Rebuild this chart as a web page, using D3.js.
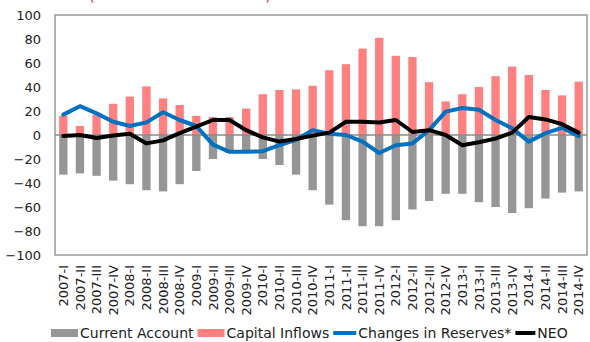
<!DOCTYPE html>
<html>
<head>
<meta charset="utf-8">
<script src="https://cdn.jsdelivr.net/npm/d3@7"></script>
<style>
  html, body { margin: 0; padding: 0; background: #fff; }
  svg { display: block; font-family: "DejaVu Sans", sans-serif; }
</style>
</head>
<body>
<svg id="chart" width="590" height="342"></svg>
<script>
// Quarterly balance-of-payments flows
const quarters = [
  "2007-I","2007-II","2007-III","2007-IV",
  "2008-I","2008-II","2008-III","2008-IV",
  "2009-I","2009-II","2009-III","2009-IV",
  "2010-I","2010-II","2010-III","2010-IV",
  "2011-I","2011-II","2011-III","2011-IV",
  "2012-I","2012-II","2012-III","2012-IV",
  "2013-I","2013-II","2013-III","2013-IV",
  "2014-I","2014-II","2014-III","2014-IV"
];
const currentAccount = [-33, -32, -34, -38, -41, -46, -47, -41, -30, -20, -15, -14, -20, -25, -33, -46,
                        -58, -71, -76, -76, -71, -62, -55, -49, -49, -56, -60, -65, -61, -53, -48, -47];
const capitalInflows = [16, 7.5, 17, 26, 32, 40.5, 30.5, 25, 16, 15, 15, 22, 34, 37.5, 38, 41,
                        54, 59, 72, 81, 66, 65, 44, 28, 34, 40, 49, 57, 50, 37.5, 33, 44.5];
const reserves = [17, 24, 18, 11, 7.5, 10.5, 19, 12.5, 7.5, -8, -14, -14, -13.5, -8.5, -4, 4,
                  1, 0, -5.5, -15, -8.5, -7, 4, 19.5, 22.5, 21, 12.5, 5.5, -5.5, 1.5, 6, -1];
const neo = [-0.8, 0, -2.5, -0.5, 1, -7, -4.5, 1.5, 7, 12.5, 12.5, 4, -2, -5.5, -3.3, -0.5,
             2, 11, 11, 10.5, 12.5, 2.5, 4, 0, -8.5, -6, -3, 2, 15, 13, 9, 2];
const yTicks = [100, 80, 60, 40, 20, 0, -20, -40, -60, -80, -100];

const seriesNames = ["Current Account", "Capital Inflows", "Changes in Reserves*", "NEO"];
const colors = { ca: "#969696", ci: "#FF8080", res: "#0070C0", neo: "#000000" };

const svg = d3.select("#chart");
const plot = { left: 55, right: 587, top: 15, bottom: 255 };

const x = d3.scaleBand().domain(quarters).range([plot.left, plot.right]).paddingInner(0.5).paddingOuter(0.25);
const y = d3.scaleLinear().domain([-100, 100]).range([plot.bottom, plot.top]);

// Title line running off the top edge of the frame
svg.append("text")
  .attr("x", 42).attr("y", 0)
  .attr("fill", "#B0363C")
  .attr("font-size", 15)
  .text("Flows (in billions of US dollars)");

// Bars: both series share the same slot
svg.append("g").selectAll("rect.ca").data(quarters).join("rect")
  .attr("x", d => x(d)).attr("width", x.bandwidth())
  .attr("y", (d, i) => y(Math.max(0, currentAccount[i])))
  .attr("height", (d, i) => Math.abs(y(currentAccount[i]) - y(0)))
  .attr("fill", colors.ca);

svg.append("g").selectAll("rect.ci").data(quarters).join("rect")
  .attr("x", d => x(d)).attr("width", x.bandwidth())
  .attr("y", (d, i) => y(Math.max(0, capitalInflows[i])))
  .attr("height", (d, i) => Math.abs(y(capitalInflows[i]) - y(0)))
  .attr("fill", colors.ci);

// Plot frame and zero line
svg.append("rect")
  .attr("x", plot.left).attr("y", plot.top)
  .attr("width", plot.right - plot.left).attr("height", plot.bottom - plot.top)
  .attr("fill", "none").attr("stroke", "#8a8a8a").attr("stroke-width", 1.3);
svg.append("line")
  .attr("x1", plot.left).attr("x2", plot.right)
  .attr("y1", y(0)).attr("y2", y(0))
  .attr("stroke", "#8a8a8a").attr("stroke-width", 1.3);

// Lines
const cx = d => x(d) + x.bandwidth() / 2;
const lineOf = arr => d3.line().x(d => cx(d)).y((d, i) => y(arr[i]));
svg.append("path").datum(quarters).attr("d", lineOf(reserves))
  .attr("fill", "none").attr("stroke", colors.res).attr("stroke-width", 4)
  .attr("stroke-linejoin", "round").attr("stroke-linecap", "round");
svg.append("path").datum(quarters).attr("d", lineOf(neo))
  .attr("fill", "none").attr("stroke", colors.neo).attr("stroke-width", 4)
  .attr("stroke-linejoin", "round").attr("stroke-linecap", "round");

// Y axis labels
const yAxis = d3.axisLeft(y).tickValues(yTicks).tickSize(0).tickPadding(14);
const gy = svg.append("g").attr("transform", `translate(${plot.left},0)`).call(yAxis);
gy.select(".domain").remove();
gy.selectAll("text").attr("font-size", 13).attr("fill", "#222").attr("font-family", "DejaVu Sans, sans-serif");

// X axis labels, rotated
const xAxis = d3.axisBottom(x).tickSize(0).tickPadding(0);
const gx = svg.append("g").attr("transform", `translate(0,${plot.bottom})`).call(xAxis);
gx.select(".domain").remove();
gx.selectAll("text")
  .attr("font-size", 13).attr("fill", "#222").attr("font-family", "DejaVu Sans, sans-serif")
  .attr("text-anchor", "end")
  .attr("transform", "translate(0,10) rotate(-90)")
  .attr("x", 0).attr("y", 0).attr("dy", "0.35em");

// Legend
const legend = svg.append("g").attr("font-size", 14).attr("fill", "#222");
const legendItems = [
  { name: seriesNames[0], type: "rect", color: colors.ca, w: 27 },
  { name: seriesNames[1], type: "rect", color: colors.ci, w: 27 },
  { name: seriesNames[2], type: "line", color: colors.res, w: 23 },
  { name: seriesNames[3], type: "line", color: colors.neo, w: 20 }
];
let lx = 51;
const ly = 333;
legendItems.forEach(item => {
  if (item.type === "rect") {
    legend.append("rect").attr("x", lx).attr("y", ly - 4).attr("width", item.w).attr("height", 8).attr("fill", item.color);
  } else {
    legend.append("line").attr("x1", lx).attr("x2", lx + item.w).attr("y1", ly).attr("y2", ly)
      .attr("stroke", item.color).attr("stroke-width", 4);
  }
  const t = legend.append("text").attr("x", lx + item.w + 2).attr("y", ly).attr("dy", "0.36em").text(item.name);
  lx += item.w + 2 + t.node().getComputedTextLength() + 4;
});
</script>
</body>
</html>
